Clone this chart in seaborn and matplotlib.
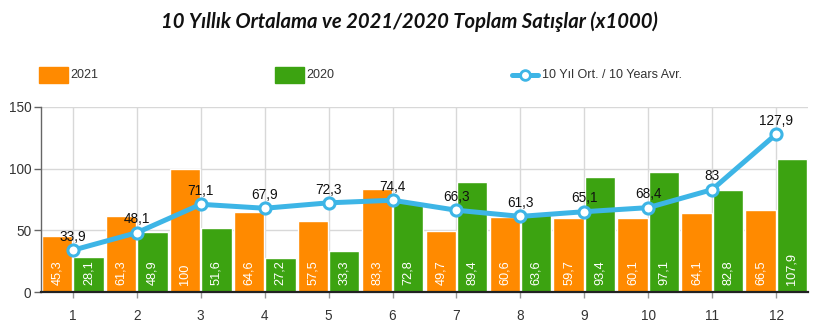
import numpy as np
import pandas as pd
import matplotlib
matplotlib.use("Agg")
import matplotlib.pyplot as plt
from matplotlib.patches import Rectangle
from matplotlib.lines import Line2D
import seaborn as sns

# Monthly sales (x1000)
months = ["1", "2", "3", "4", "5", "6", "7", "8", "9", "10", "11", "12"]
sales_2021 = [45.3, 61.3, 100, 64.6, 57.5, 83.3, 49.7, 60.6, 59.7, 60.1, 64.1, 66.5]
sales_2020 = [28.1, 48.9, 51.6, 27.2, 33.3, 72.8, 89.4, 63.6, 93.4, 97.1, 82.8, 107.9]
avg_10y = [33.9, 48.1, 71.1, 67.9, 72.3, 74.4, 66.3, 61.3, 65.1, 68.4, 83, 127.9]
yticks = [0, 50, 100, 150]

title = "10 Yıllık Ortalama ve 2021/2020 Toplam Satışlar (x1000)"
label_2021 = "2021"
label_2020 = "2020"
label_avg = "10 Yıl Ort. / 10 Years Avr."

ORANGE = "#FF8A00"
GREEN = "#3CA311"
BLUE = "#3DB5E6"

sns.set_theme(style="white")
plt.rcParams["font.family"] = ["Liberation Sans", "DejaVu Sans"]

df = pd.DataFrame({
    "Ay": months * 2,
    "Yıl": [label_2021] * len(months) + [label_2020] * len(months),
    "Satış": sales_2021 + sales_2020,
})

fig = plt.figure(figsize=(8.19, 3.30), dpi=100)
ax = fig.add_axes([41 / 819, 1 - 292 / 330, (808 - 41) / 819, (292 - 107) / 330])

sns.barplot(data=df, x="Ay", y="Satış", hue="Yıl", hue_order=[label_2021, label_2020],
            palette=[ORANGE, GREEN], saturation=1, width=0.98, gap=0.03,
            legend=False, ax=ax, zorder=2)

def fmt(v):
    return f"{v:g}".replace(".", ",")

# white value labels standing at the foot of each bar
for container, values in zip(ax.containers, [sales_2021, sales_2020]):
    for bar, v in zip(container, values):
        ax.annotate(fmt(v), xy=(bar.get_x() + bar.get_width() / 2, 0),
                    xytext=(0, 5), textcoords="offset points",
                    ha="center", va="bottom", rotation=90,
                    color="white", fontsize=9.2, zorder=5)

pos = np.arange(len(months))
sns.lineplot(x=pos, y=avg_10y, color=BLUE, linewidth=3.6, marker="o",
             markersize=8, markerfacecolor="white", markeredgecolor=BLUE,
             markeredgewidth=2.2, ax=ax, zorder=4)
for x, v in zip(pos, avg_10y):
    ax.annotate(fmt(v), xy=(x, v), xytext=(0, 4.5), textcoords="offset points",
                ha="center", va="bottom", fontsize=9.8, color="#111111", zorder=6)

ax.set_xlim(-0.5, len(months) - 0.5)
ax.set_ylim(0, 150)
ax.set_yticks(yticks)
ax.set_xlabel("")
ax.set_ylabel("")
ax.set_axisbelow(True)
ax.grid(True, color="#D8D8D8", linewidth=1)
for s in ["top", "right"]:
    ax.spines[s].set_visible(False)
ax.spines["left"].set_color("#666666")
ax.spines["left"].set_linewidth(1)
ax.spines["bottom"].set_color("#222222")
ax.spines["bottom"].set_linewidth(1.6)
ax.spines["bottom"].set_zorder(7)
ax.tick_params(axis="y", length=5, width=1, color="#666666", labelsize=9.8,
               labelcolor="#333333", pad=2, left=True)
ax.tick_params(axis="x", length=4, width=1, color="#999999", labelsize=9.8,
               labelcolor="#333333", pad=8, bottom=True)

fig.text(0.5, 1 - 22 / 330, title, ha="center", va="center",
         fontsize=14.6, fontweight="bold", fontstyle="italic",
         family=["Lato", "DejaVu Sans"], color="#111111")

# legend row
ly = 1 - 75 / 330
sw_h = 16 / 330
fig.add_artist(Rectangle((39 / 819, ly - sw_h / 2), 29 / 819, sw_h,
                         transform=fig.transFigure, color=ORANGE))
fig.text(70 / 819, ly, label_2021, ha="left", va="center", fontsize=9, color="#333333")
fig.add_artist(Rectangle((275 / 819, ly - sw_h / 2), 29 / 819, sw_h,
                         transform=fig.transFigure, color=GREEN))
fig.text(306 / 819, ly, label_2020, ha="left", va="center", fontsize=9, color="#333333")
fig.add_artist(Line2D([512 / 819, 538 / 819], [ly, ly], transform=fig.transFigure,
                      color=BLUE, linewidth=3.6))
fig.add_artist(Line2D([525 / 819], [ly], transform=fig.transFigure, marker="o",
                      markersize=7, markerfacecolor="white", markeredgecolor=BLUE,
                      markeredgewidth=2))
fig.text(542 / 819, ly, label_avg, ha="left", va="center", fontsize=9, color="#333333")

fig.savefig("out.png", dpi=100)
